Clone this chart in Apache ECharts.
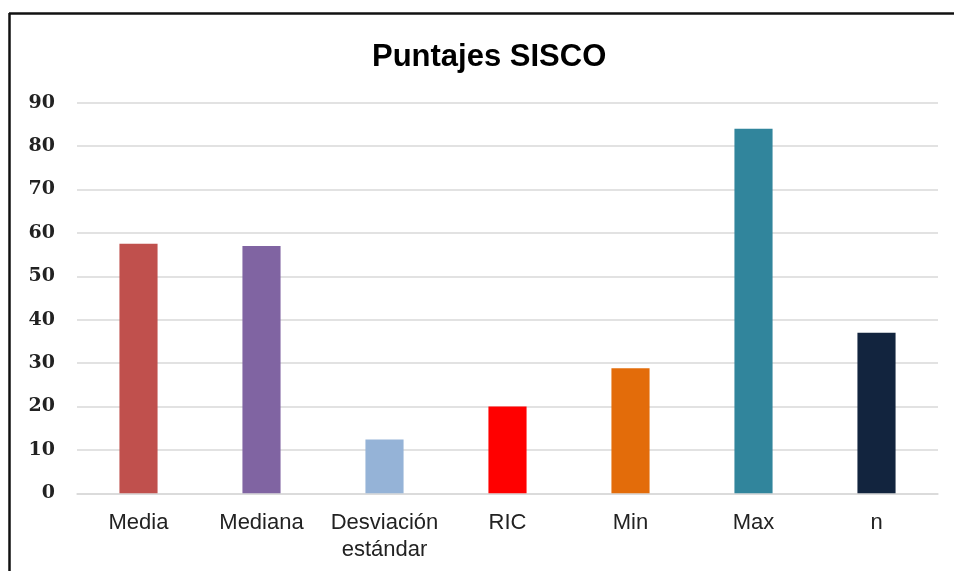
<!DOCTYPE html>
<html>
<head>
<meta charset="utf-8">
<script src="https://cdn.jsdelivr.net/npm/echarts@6/dist/echarts.min.js"></script>
<style>
html,body{margin:0;padding:0;background:#fff;}
#c{width:954px;height:571px;}
</style>
</head>
<body>
<div id="c"></div>
<script>
const categories = ['Media', 'Mediana', 'Desviación\nestándar', 'RIC', 'Min', 'Max', 'n'];
const values = [57.5, 57, 12.4, 20, 28.8, 84, 37];
const colors = ['#C0504D', '#8064A2', '#95B3D7', '#FF0000', '#E36C0A', '#31859C', '#12243E'];
const yTicks = [0, 10, 20, 30, 40, 50, 60, 70, 80, 90];

const chart = echarts.init(document.getElementById('c'));
chart.setOption({
  backgroundColor: '#fff',
  animation: false,
  title: {
    text: 'Puntajes SISCO',
    left: 367, top: 37,
    textStyle: {fontFamily: 'Liberation Sans, Arial, sans-serif', fontWeight: 'bold', fontSize: 31, color: '#000'}
  },
  graphic: [
    {type: 'line', shape: {x1: 9, y1: 13.5, x2: 954, y2: 13.5}, style: {stroke: '#111', lineWidth: 2.5}},
    {type: 'line', shape: {x1: 9.5, y1: 13, x2: 9.5, y2: 571}, style: {stroke: '#111', lineWidth: 2.5}}
  ],
  grid: {left: 77, right: 16, top: 102.7, bottom: 77.7, containLabel: false},
  xAxis: {
    type: 'category',
    data: categories,
    axisLine: {show: true, lineStyle: {color: '#d9d9d9', width: 1.5}},
    axisTick: {show: false},
    axisLabel: {
      color: '#222', fontSize: 22, fontFamily: 'Liberation Sans, Arial, sans-serif',
      margin: 16, lineHeight: 27, interval: 0
    }
  },
  yAxis: {
    type: 'value',
    min: 0, max: 90, interval: 10,
    axisLine: {show: false},
    axisTick: {show: false},
    splitLine: {lineStyle: {color: '#d9d9d9', width: 1.5}},
    axisLabel: {
      color: '#222', fontSize: 19, fontWeight: 'bold',
      fontFamily: 'DejaVu Serif, serif', margin: 22,
      formatter: v => yTicks.includes(v) ? String(v) : ''
    }
  },
  series: [{
    type: 'bar',
    barWidth: '31%',
    data: values.map((v, i) => ({value: v, itemStyle: {color: colors[i]}}))
  }]
});
</script>
</body>
</html>
